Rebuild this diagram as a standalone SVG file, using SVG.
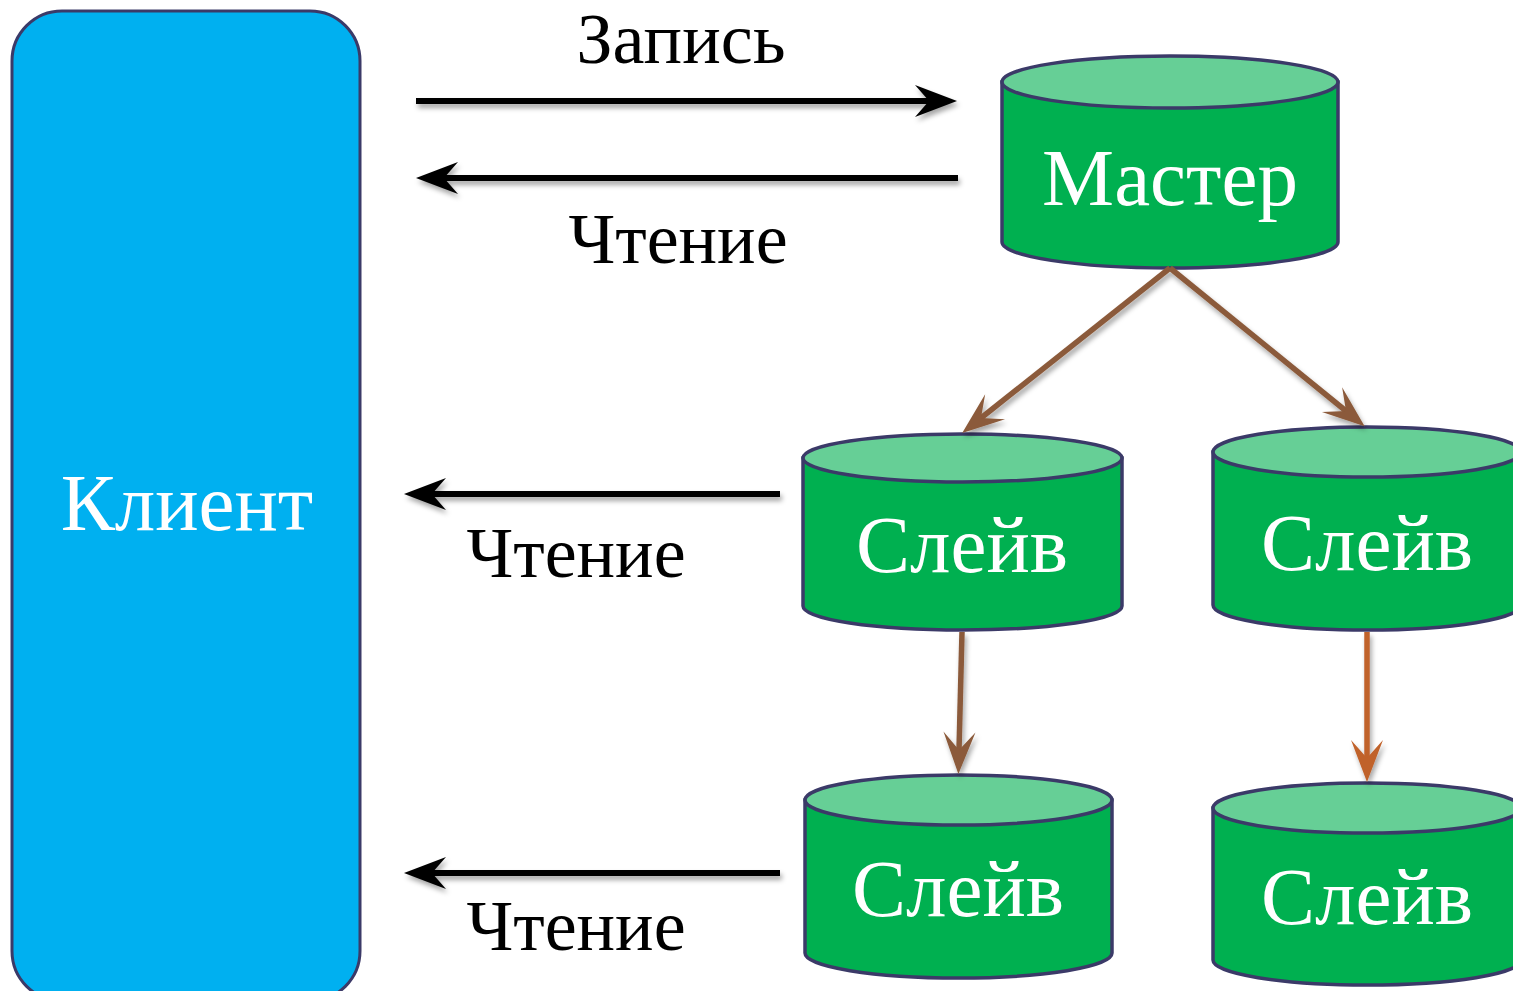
<svg xmlns="http://www.w3.org/2000/svg" width="1513" height="991" viewBox="0 0 1513 991">
<style>
.cyl{fill:#00b050;stroke:#3b3a68;stroke-width:3.5}
.top{fill:#66cf96;stroke:#3b3a68;stroke-width:3.5}
.wt{font-family:"Liberation Serif","DejaVu Serif",serif;font-size:81px;fill:#ffffff;text-anchor:middle}
.bt{font-family:"Liberation Serif","DejaVu Serif",serif;font-size:72px;fill:#000000;text-anchor:middle}
.blk{stroke:#000;stroke-width:6;fill:none}
.brn{stroke:#8b5a3a;stroke-width:5.5;fill:none}
.org{stroke:#c0622c;stroke-width:5.5;fill:none}
</style>
<defs>
<filter id="sh" x="-20%" y="-20%" width="140%" height="140%">
<feDropShadow dx="2" dy="4" stdDeviation="2.5" flood-color="#000" flood-opacity="0.35"/>
</filter>
<marker id="ah" markerUnits="userSpaceOnUse" viewBox="0 -20 44 40" markerWidth="44" markerHeight="40" refX="14" refY="0" orient="auto" overflow="visible">
<path d="M42,0 L0,-16 L14,0 L0,16 Z" fill="#000"/>
</marker>
<marker id="ahb" markerUnits="userSpaceOnUse" viewBox="0 -20 44 40" markerWidth="44" markerHeight="40" refX="18" refY="0" orient="auto" overflow="visible">
<path d="M42,0 L0,-16 L18,0 L0,16 Z" fill="#8b5a3a"/>
</marker>
<marker id="aho" markerUnits="userSpaceOnUse" viewBox="0 -20 44 40" markerWidth="44" markerHeight="40" refX="18" refY="0" orient="auto" overflow="visible">
<path d="M42,0 L0,-16 L18,0 L0,16 Z" fill="#c0622c"/>
</marker>
</defs>
<rect width="1513" height="991" fill="#ffffff"/>

<g id="client">
<rect x="12" y="11" width="348" height="990" rx="50" ry="50" fill="#00b0f0" stroke="#3b3a68" stroke-width="3"/>
<text class="wt" x="187" y="530">Клиент</text>
</g>

<g id="master">
<path class="cyl" d="M1002,82 V242 A168,26 0 0 0 1338,242 V82 Z"/>
<ellipse class="top" cx="1170" cy="82" rx="168" ry="26"/>
<text class="wt" x="1170" y="205">Мастер</text>
</g>

<g id="slave1">
<path class="cyl" d="M803,458 V606 A159.5,24 0 0 0 1122,606 V458 Z"/>
<ellipse class="top" cx="962.5" cy="458" rx="159.5" ry="24"/>
<text class="wt" x="962" y="572">Слейв</text>
</g>

<g id="slave2">
<path class="cyl" d="M1213,452 V605 A154,25 0 0 0 1521,605 V452 Z"/>
<ellipse class="top" cx="1367" cy="452" rx="154" ry="25"/>
<text class="wt" x="1367" y="570">Слейв</text>
</g>

<g id="slave3">
<path class="cyl" d="M805,800 V953 A153.5,25 0 0 0 1112,953 V800 Z"/>
<ellipse class="top" cx="958.5" cy="800" rx="153.5" ry="25"/>
<text class="wt" x="958" y="916">Слейв</text>
</g>

<g id="slave4">
<path class="cyl" d="M1213,808 V960 A154,25 0 0 0 1521,960 V808 Z"/>
<ellipse class="top" cx="1367" cy="808" rx="154" ry="25"/>
<text class="wt" x="1367" y="924">Слейв</text>
</g>

<g id="connectors" filter="url(#sh)">
<line class="blk" x1="416" y1="101" x2="929" y2="101" marker-end="url(#ah)"/>
<line class="blk" x1="958" y1="178" x2="444" y2="178" marker-end="url(#ah)"/>
<line class="blk" x1="780" y1="494" x2="432" y2="494" marker-end="url(#ah)"/>
<line class="blk" x1="780" y1="873" x2="432" y2="873" marker-end="url(#ah)"/>
<line class="brn" x1="1170" y1="268" x2="981" y2="418" marker-end="url(#ahb)"/>
<line class="brn" x1="1170" y1="268" x2="1346" y2="411" marker-end="url(#ahb)"/>
<line class="brn" x1="962" y1="632" x2="959" y2="750" marker-end="url(#ahb)"/>
<line class="org" x1="1367" y1="632" x2="1367" y2="758" marker-end="url(#aho)"/>
</g>

<g id="labels">
<text class="bt" x="681" y="63">Запись</text>
<text class="bt" x="678" y="263">Чтение</text>
<text class="bt" x="576" y="577">Чтение</text>
<text class="bt" x="576" y="950">Чтение</text>
</g>
</svg>
